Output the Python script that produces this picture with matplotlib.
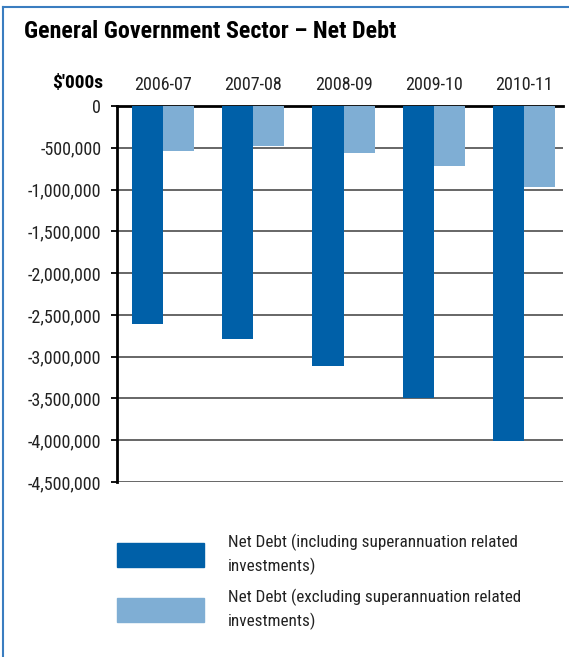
import matplotlib
matplotlib.use("Agg")
import matplotlib.pyplot as plt
import numpy as np
from matplotlib.patches import Patch
from matplotlib.lines import Line2D

plt.rcParams['font.family'] = ['Roboto Condensed', 'Archivo Narrow', 'DejaVu Sans']

years = ["2006-07", "2007-08", "2008-09", "2009-10", "2010-11"]
incl_super = [-2610000, -2790000, -3110000, -3500000, -4010000]
excl_super = [-540000, -480000, -560000, -720000, -970000]
labels = ["Net Debt (including superannuation related\ninvestments)",
          "Net Debt (excluding superannuation related\ninvestments)"]
yticks = np.arange(0, -4500001, -500000)

dark = '#0060a8'
light = '#7faed4'

fig = plt.figure(figsize=(5.69, 6.57), dpi=100)
ax = fig.add_axes([117/569, 1 - 482/657, 446/569, 376/657])

x = np.arange(len(years))
w = 0.345
ax.bar(x - w/2, incl_super, w, color=dark, zorder=3)
ax.bar(x + w/2, excl_super, w, color=light, zorder=3)

ax.set_xlim(-0.51, 4.43)
ax.set_ylim(-4500000, 0)
ax.set_yticks(yticks)
ax.set_yticklabels(["0" if v == 0 else f"{v:,}" for v in yticks], fontsize=13, color='#222222')
ax.yaxis.grid(True, color='#5a5a5a', linewidth=1.3, zorder=0)

ax.xaxis.tick_top()
ax.set_xticks(x)
ax.set_xticklabels(years, fontsize=13, color='#222222')
ax.tick_params(axis='x', length=0, pad=9)
ax.tick_params(axis='y', length=4.3, width=1.3, pad=7)

for s in ['right', 'bottom']:
    ax.spines[s].set_visible(False)
ax.spines['left'].set_linewidth(2)
ax.spines['top'].set_linewidth(2)

ax.text(-0.031, 1.048, "$'000s", transform=ax.transAxes, ha='right', va='baseline',
        fontsize=14, fontweight='bold')

fig.text(24/569, 1 - 32/657, "General Government Sector \u2013 Net Debt",
         fontsize=17.3, fontweight='bold', va='center', ha='left')

# outer frame (only top and left visible)
fig.add_artist(Line2D([3/569, 3/569], [0, 1 - 7/657], color='#3a7dc0', lw=1.5))
fig.add_artist(Line2D([3/569, 1], [1 - 7/657, 1 - 7/657], color='#3a7dc0', lw=1.5))

handles = [Patch(color=dark), Patch(color=light)]
leg = fig.legend(handles, labels, loc='upper left', bbox_to_anchor=(117/569, 1 - 534/657),
                 frameon=False, fontsize=12.3, handlelength=5.1, handleheight=1.75,
                 handletextpad=1.4, labelspacing=0.85, borderpad=0, borderaxespad=0,
                 labelcolor='#222222')
for t in leg.get_texts():
    t.set_linespacing(1.45)

fig.savefig("out.png", dpi=100)
